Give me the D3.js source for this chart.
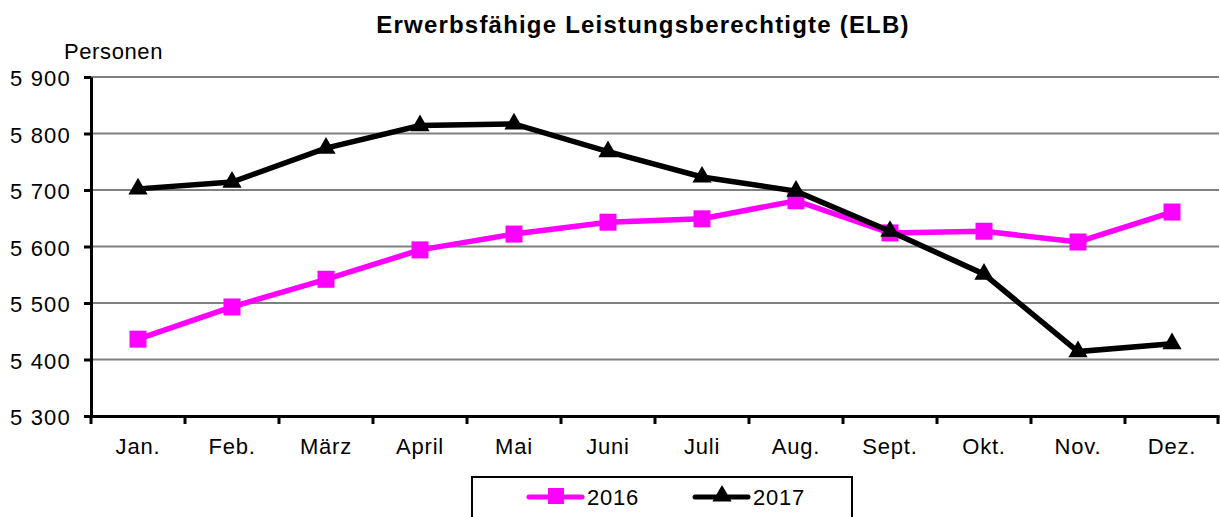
<!DOCTYPE html>
<html><head><meta charset="utf-8">
<script src="https://cdn.jsdelivr.net/npm/d3@7"></script>
<style>body{margin:0;background:#fff;} text{font-family:"Liberation Sans",Arial,sans-serif;}</style>
</head><body>
<svg id="chart" width="1220" height="517"></svg>
<script>
const months = ["Jan.","Feb.","März","April","Mai","Juni","Juli","Aug.","Sept.","Okt.","Nov.","Dez."];
const values2016 = [5436,5493,5542,5594,5622,5643,5649,5681,5624,5627,5608,5661];
const values2017 = [5702,5714,5774,5814,5817,5768,5723,5698,5627,5551,5414,5428];
const yTicks = [5300,5400,5500,5600,5700,5800,5900];
const seriesNames = ["2016","2017"];

(function(){
const svg = d3.select("#chart");
const pL = 91, pR = 1219, pT = 77, pB = 416;
const x = d3.scaleBand().domain(months).range([pL,pR]);
const y = d3.scaleLinear().domain([5300,5900]).range([pB,pT]);
const fmt = v => d3.format(",")(v).replace(",", " ");
const FS = "22px", LS = "0.8px";

svg.append("text").attr("x",643).attr("y",33).attr("text-anchor","middle")
  .style("font-size","24px").style("font-weight","bold").style("letter-spacing","1.2px")
  .text("Erwerbsfähige Leistungsberechtigte (ELB)");
svg.append("text").attr("x",64).attr("y",59).style("font-size",FS).style("letter-spacing","0.6px").text("Personen");

svg.append("g").selectAll("line").data(yTicks.filter(d=>d>5300)).join("line")
  .attr("x1",pL).attr("x2",pR).attr("y1",d=>y(d)).attr("y2",d=>y(d))
  .attr("stroke","#808080").attr("stroke-width",2);

const yAxis = svg.append("g").attr("transform",`translate(${pL},0)`)
  .call(d3.axisLeft(y).tickValues(yTicks).tickFormat(fmt).tickSize(7).tickSizeOuter(0).tickPadding(13));
yAxis.select(".domain").attr("stroke","#000").attr("stroke-width",3);
yAxis.selectAll(".tick line").attr("stroke","#000").attr("stroke-width",3);
yAxis.selectAll("text").style("font-size",FS).style("letter-spacing","1.2px").attr("fill","#000")
  .attr("dy","0.4em").attr("font-family","Liberation Sans, Arial, sans-serif");

const xAxis = svg.append("g").attr("transform",`translate(0,${pB})`)
  .call(d3.axisBottom(x).tickSize(0).tickSizeOuter(0).tickPadding(22));
xAxis.select(".domain").attr("stroke","#000").attr("stroke-width",3);
xAxis.selectAll("text").style("font-size",FS).style("letter-spacing",LS).attr("fill","#000").attr("font-family","Liberation Sans, Arial, sans-serif");
svg.append("g").selectAll("line").data(months).join("line")
  .attr("x1",d=>x(d)).attr("x2",d=>x(d)).attr("y1",pB).attr("y2",pB+8)
  .attr("stroke","#000").attr("stroke-width",3);
svg.append("line").attr("x1",pR-1).attr("x2",pR-1).attr("y1",pB).attr("y2",pB+8).attr("stroke","#000").attr("stroke-width",3);

const cx = d => x(d) + x.bandwidth()/2;
const line = d3.line().x((d,i)=>cx(months[i])).y(d=>y(d));
const tri = d3.symbol().type(d3.symbolTriangle).size(160);

svg.append("path").datum(values2016).attr("d",line).attr("fill","none").attr("stroke","#ff00ff").attr("stroke-width",5.5);
svg.append("g").selectAll("rect").data(values2016).join("rect")
  .attr("x",(d,i)=>cx(months[i])-8.5).attr("y",d=>y(d)-8.5).attr("width",17).attr("height",17).attr("fill","#ff00ff");
svg.append("path").datum(values2017).attr("d",line).attr("fill","none").attr("stroke","#000").attr("stroke-width",5.5);
svg.append("g").selectAll("path").data(values2017).join("path")
  .attr("d",tri).attr("transform",(d,i)=>`translate(${cx(months[i])},${y(d)})`).attr("fill","#000");

svg.append("rect").attr("x",472).attr("y",477).attr("width",380).attr("height",50)
  .attr("fill","#fff").attr("stroke","#000").attr("stroke-width",2);
const lg = [{name:seriesNames[0],x0:529,color:"#ff00ff",sym:"sq"},{name:seriesNames[1],x0:695,color:"#000",sym:"tri"}];
lg.forEach(l=>{
  svg.append("line").attr("x1",l.x0).attr("x2",l.x0+53).attr("y1",497).attr("y2",497)
    .attr("stroke",l.color).attr("stroke-width",5).attr("stroke-linecap","round");
  if(l.sym==="sq") svg.append("rect").attr("x",l.x0+19).attr("y",488).attr("width",16).attr("height",16).attr("fill",l.color);
  else svg.append("path").attr("d",tri).attr("transform",`translate(${l.x0+27},496)`).attr("fill",l.color);
  svg.append("text").attr("x",l.x0+58).attr("y",505).style("font-size",FS).style("letter-spacing",LS).text(l.name);
});
})();
</script>
</body></html>
